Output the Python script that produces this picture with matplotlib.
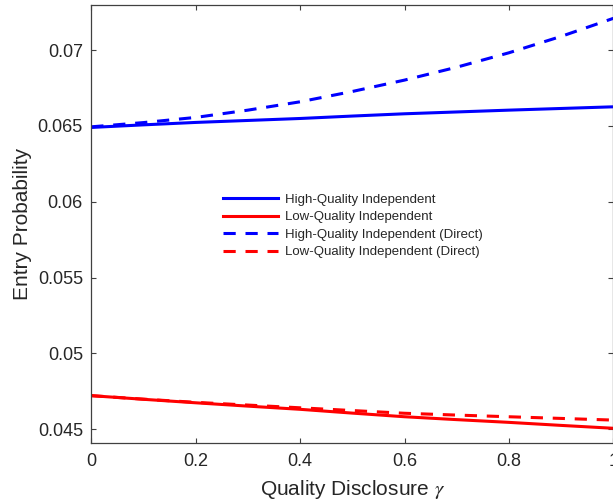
import matplotlib
matplotlib.use("Agg")
import matplotlib.pyplot as plt

# Quality disclosure level
gamma = [0.0, 0.1, 0.2, 0.3, 0.4, 0.5, 0.6, 0.7, 0.8, 0.9, 1.0]

# Entry probabilities
high_indep = [0.06490, 0.06507, 0.06523, 0.06536, 0.06549, 0.06565,
              0.06580, 0.06592, 0.06604, 0.06615, 0.06626]
low_indep = [0.04722, 0.04698, 0.04675, 0.04653, 0.04632, 0.04607,
             0.04583, 0.04564, 0.04546, 0.04526, 0.04507]
high_indep_direct = [0.06494, 0.06522, 0.06556, 0.06604, 0.06659, 0.06727,
                     0.06802, 0.06887, 0.06982, 0.07090, 0.07209]
low_indep_direct = [0.04722, 0.04699, 0.04678, 0.04660, 0.04642, 0.04624,
                    0.04606, 0.04594, 0.04583, 0.04572, 0.04561]

series_labels = ["High-Quality Independent", "Low-Quality Independent",
                 "High-Quality Independent (Direct)", "Low-Quality Independent (Direct)"]

x_ticks = [0, 0.2, 0.4, 0.6, 0.8, 1.0]
x_tick_labels = ["0", "0.2", "0.4", "0.6", "0.8", "1"]
y_ticks = [0.045, 0.05, 0.055, 0.06, 0.065, 0.07]
y_tick_labels = ["0.045", "0.05", "0.055", "0.06", "0.065", "0.07"]

plt.rcParams["font.family"] = ["Liberation Sans", "DejaVu Sans"]
plt.rcParams["mathtext.fontset"] = "stix"

fig = plt.figure(figsize=(6.13, 5.04), dpi=100)
ax = fig.add_axes([91.3 / 613, 60.7 / 504, 522 / 613, 438.6 / 504])

lw = 2.2
dash = (4, 3.2)
ax.plot(gamma, high_indep, color="#0000ff", lw=lw, label=series_labels[0])
ax.plot(gamma, low_indep, color="#ff0000", lw=lw, label=series_labels[1])
ax.plot(gamma, high_indep_direct, color="#0000ff", lw=lw, ls="--", dashes=dash,
        label=series_labels[2])
ax.plot(gamma, low_indep_direct, color="#ff0000", lw=lw, ls="--", dashes=dash,
        label=series_labels[3])

ax.set_xlim(0, 1)
ax.set_ylim(0.04408, 0.07299)
ax.set_xticks(x_ticks)
ax.set_xticklabels(x_tick_labels)
ax.set_yticks(y_ticks)
ax.set_yticklabels(y_tick_labels)

axis_color = "#404040"
for sp in ax.spines.values():
    sp.set_color(axis_color)
    sp.set_linewidth(0.9)
ax.tick_params(direction="in", length=3.6, width=0.8, color=axis_color,
               top=True, right=True, labelsize=13, labelcolor="#262626")
ax.tick_params(axis="y", pad=6)
ax.tick_params(axis="x", pad=7)

ax.set_xlabel(r"Quality Disclosure $\gamma$", fontsize=15, color="#262626", labelpad=6)
ax.set_ylabel("Entry Probability", fontsize=15, color="#262626", labelpad=4)

leg = ax.legend(loc="upper left", bbox_to_anchor=(223 / 613, 1 - 193.5 / 504),
                bbox_transform=fig.transFigure, frameon=False, fontsize=9.5,
                handlelength=4.2, handletextpad=0.5, labelspacing=0.4,
                borderpad=0, borderaxespad=0)
for t in leg.get_texts():
    t.set_color("#262626")

fig.savefig("out.png", dpi=100)
